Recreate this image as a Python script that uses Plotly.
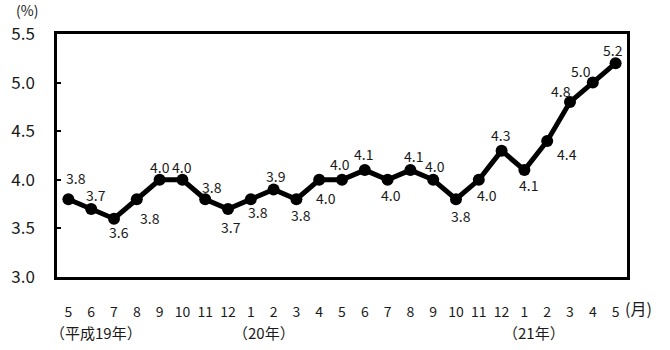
import plotly.graph_objects as go

months = ["5","6","7","8","9","10","11","12","1","2","3","4","5","6","7","8","9","10","11","12","1","2","3","4","5"]
values = [3.8,3.7,3.6,3.8,4.0,4.0,3.8,3.7,3.8,3.9,3.8,4.0,4.0,4.1,4.0,4.1,4.0,3.8,4.0,4.3,4.1,4.4,4.8,5.0,5.2]
year_labels = ["（平成19年）", "（20年）", "（21年）"]
year_pos = [1.2, 8.6, 20.4]
yticks = [3.0, 3.5, 4.0, 4.5, 5.0, 5.5]

# label offsets in pixels (style only)
label_dx = [8, 5, 5, 13, 0, 0, 7, 3, 7, 2, 5, 7, -2, -1, 3, 3, 2, 5, 8, -1, 4, 20, -9, -12, -3]
label_dy = [21, 14, -13, -19, 13, 13, 12, -18, -13, 14, -16, -18, 16, 16, -15, 14, 14, -17, -15, 16, -15, -13, 11, 12, 13]

FONT = "Noto Sans CJK JP, Liberation Sans, sans-serif"
TXT = "#1a1a1a"
x = list(range(len(values)))

fig = go.Figure()
fig.add_trace(go.Scatter(
    x=x, y=values, mode="lines+markers",
    line=dict(color="black", width=5),
    marker=dict(color="black", size=12),
    cliponaxis=False, showlegend=False, hoverinfo="x+y",
))

for i, v in enumerate(values):
    fig.add_annotation(x=i, y=v, xref="x", yref="y", text=f"{v:.1f}", showarrow=False,
                       xanchor="center", yanchor="middle",
                       xshift=label_dx[i], yshift=label_dy[i],
                       font=dict(size=14, family=FONT, color=TXT))

fig.update_layout(
    width=670, height=350,
    margin=dict(l=57, r=43, t=34, b=73),
    paper_bgcolor="white", plot_bgcolor="white",
    font=dict(family=FONT, color=TXT),
)
fig.update_xaxes(
    range=[-0.5, 24.5], tickvals=x, ticktext=months,
    showgrid=False, zeroline=False, showline=True, linecolor="black", linewidth=2.5, mirror=True,
    ticks="", tickfont=dict(size=14, family=FONT, color=TXT), ticklabelstandoff=20,
)
fig.update_yaxes(
    range=[3.0, 5.5], tickvals=yticks, ticktext=[f"{t:.1f}" for t in yticks],
    showgrid=False, zeroline=False, showline=True, linecolor="black", linewidth=2.5, mirror=True,
    ticks="inside", ticklen=4, tickwidth=2, tickcolor="black",
    tickfont=dict(size=17, family=FONT, color=TXT), ticklabelstandoff=16,
)

for p, t in zip(year_pos, year_labels):
    fig.add_annotation(x=p, y=-0.23, xref="x", yref="paper", text=t, showarrow=False,
                       xanchor="center", yanchor="middle", font=dict(size=15, family=FONT, color=TXT))
fig.add_annotation(x=1.0, y=-0.128, xref="paper", yref="paper", text="(月)", showarrow=False,
                   xanchor="left", yanchor="middle", xshift=-4, font=dict(size=16, family=FONT, color=TXT))
fig.add_annotation(x=0, y=1.10, xref="paper", yref="paper", text="(%)", showarrow=False,
                   xanchor="center", yanchor="middle", xshift=-30, font=dict(size=14, family=FONT, color=TXT))

fig.write_html("out.html")
